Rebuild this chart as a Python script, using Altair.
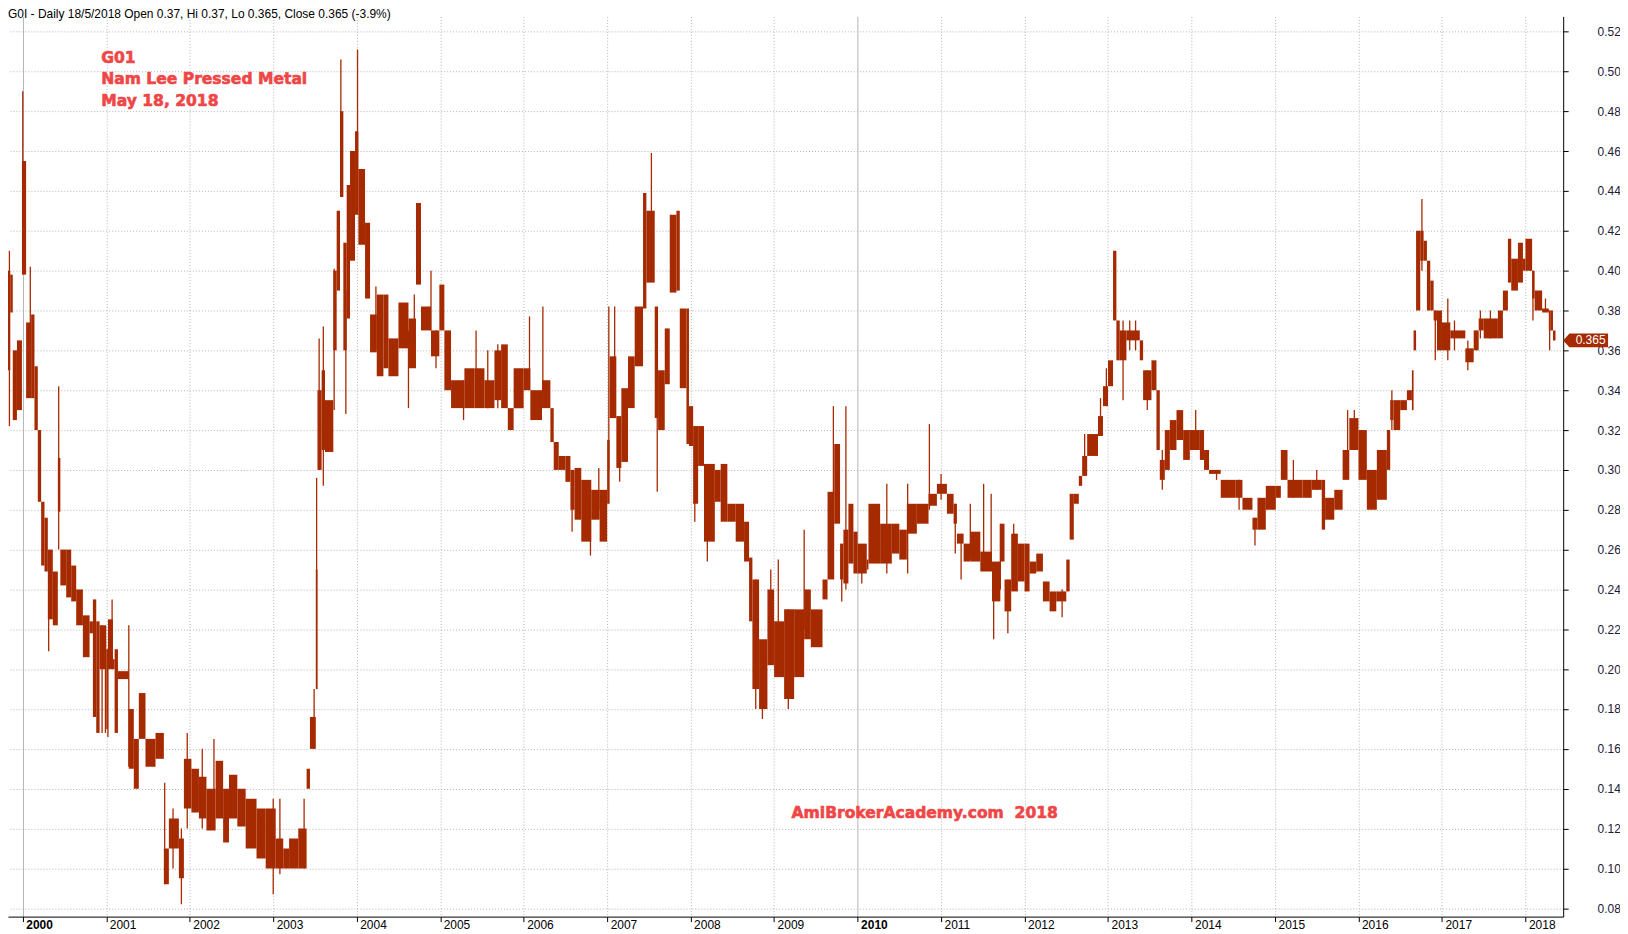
import altair as alt
import pandas as pd

# ---- data (fractional year, price range) ----
seg_start = [
    1999.78, 1999.81, 1999.85, 1999.88, 1999.93, 1999.99,
    2000.04, 2000.10, 2000.14, 2000.18, 2000.22, 2000.26, 2000.30, 2000.36, 2000.42, 2000.45,
    2000.52, 2000.58, 2000.64, 2000.72, 2000.80, 2000.84, 2000.88, 2000.92,
    2001.00, 2001.02, 2001.08, 2001.10, 2001.14, 2001.27, 2001.33, 2001.39, 2001.47, 2001.59,
    2001.69, 2001.75, 2001.87, 2001.93,
    2002.02, 2002.11, 2002.20, 2002.31, 2002.40, 2002.47, 2002.57, 2002.67, 2002.80, 2002.91,
    2003.03, 2003.12, 2003.19, 2003.30, 2003.40, 2003.44, 2003.51, 2003.53, 2003.58, 2003.62,
    2003.72, 2003.76, 2003.80, 2003.84, 2003.88, 2003.92, 2003.98,
    2004.02, 2004.10, 2004.16, 2004.24, 2004.32, 2004.38, 2004.50, 2004.62, 2004.71, 2004.77,
    2004.89, 2004.99,
    2005.05, 2005.13, 2005.29, 2005.41, 2005.53, 2005.65, 2005.73, 2005.81, 2005.88,
    2006.00, 2006.08, 2006.22, 2006.32, 2006.36, 2006.42, 2006.50, 2006.56, 2006.61, 2006.69,
    2006.81, 2006.91,
    2007.00, 2007.03, 2007.11, 2007.17, 2007.25, 2007.33, 2007.43, 2007.47, 2007.57, 2007.61,
    2007.69, 2007.75, 2007.83, 2007.87, 2007.95, 2007.98,
    2008.03, 2008.09, 2008.16, 2008.29, 2008.36, 2008.44, 2008.54, 2008.64, 2008.70, 2008.74,
    2008.82, 2008.92,
    2009.00, 2009.12, 2009.24, 2009.36, 2009.44, 2009.58, 2009.64, 2009.72, 2009.79, 2009.83,
    2009.89, 2009.95,
    2010.00, 2010.11, 2010.13, 2010.27, 2010.41, 2010.50, 2010.59, 2010.71, 2010.85, 2010.95,
    2011.07, 2011.15, 2011.19, 2011.27, 2011.35, 2011.47, 2011.61, 2011.71, 2011.76, 2011.84,
    2011.92,
    2012.00, 2012.06, 2012.14, 2012.22, 2012.30, 2012.38, 2012.50, 2012.54, 2012.59, 2012.65,
    2012.69, 2012.75, 2012.88, 2012.94,
    2013.00, 2013.06, 2013.10, 2013.14, 2013.22, 2013.38, 2013.42, 2013.52, 2013.58, 2013.62,
    2013.68, 2013.74, 2013.82, 2013.90, 2013.98,
    2014.10, 2014.15, 2014.21, 2014.35, 2014.53, 2014.61, 2014.73, 2014.79, 2014.89,
    2015.01, 2015.07, 2015.15, 2015.33, 2015.44, 2015.56, 2015.60, 2015.71, 2015.81, 2015.89,
    2016.00, 2016.10, 2016.22, 2016.34, 2016.38, 2016.42, 2016.50, 2016.58, 2016.64, 2016.66,
    2016.69, 2016.74, 2016.78, 2016.82, 2016.86, 2016.90, 2016.94,
    2017.00, 2017.10, 2017.28, 2017.38, 2017.44, 2017.50, 2017.67, 2017.73, 2017.79, 2017.83,
    2017.91, 2017.97,
    2018.00, 2018.08, 2018.11, 2018.20, 2018.28, 2018.30, 2018.33,
]
last_date = 2018.36

seg_high = [
    0.389, 0.400, 0.398, 0.360, 0.365, 0.455,
    0.374, 0.378, 0.352, 0.320, 0.284, 0.276, 0.260, 0.249, 0.306, 0.260,
    0.260, 0.252, 0.240, 0.227, 0.224, 0.235, 0.224, 0.222,
    0.210, 0.225, 0.205, 0.210, 0.199, 0.180, 0.165, 0.188, 0.165, 0.168,
    0.110, 0.125, 0.115, 0.155,
    0.150, 0.146, 0.140, 0.154, 0.140, 0.147, 0.140, 0.135, 0.130, 0.130,
    0.115, 0.110, 0.115, 0.120, 0.150, 0.176, 0.250, 0.340, 0.350, 0.335,
    0.400, 0.430, 0.480, 0.414, 0.443, 0.460, 0.470,
    0.451, 0.424, 0.378, 0.388, 0.388, 0.366, 0.384, 0.376, 0.434, 0.382,
    0.370, 0.393,
    0.370, 0.345, 0.351, 0.351, 0.345, 0.360, 0.363, 0.331, 0.351,
    0.351, 0.340, 0.345, 0.331, 0.314, 0.307, 0.307, 0.300, 0.301, 0.295,
    0.290, 0.290,
    0.315, 0.357, 0.327, 0.341, 0.357, 0.382, 0.439, 0.430, 0.382, 0.350,
    0.371, 0.428, 0.430, 0.381, 0.381, 0.332,
    0.322, 0.322, 0.303, 0.300, 0.303, 0.283, 0.283, 0.274, 0.256, 0.245,
    0.215, 0.240,
    0.224, 0.230, 0.230, 0.240, 0.230, 0.245, 0.289, 0.313, 0.263, 0.270,
    0.283, 0.269,
    0.263, 0.255, 0.283, 0.273, 0.273, 0.270, 0.283, 0.283, 0.288, 0.293,
    0.288, 0.283, 0.268, 0.263, 0.269, 0.259, 0.254, 0.273, 0.245, 0.268,
    0.263,
    0.263, 0.254, 0.258, 0.244, 0.239, 0.239, 0.255, 0.288, 0.288, 0.297,
    0.307, 0.318, 0.327, 0.342,
    0.355, 0.410, 0.375, 0.370, 0.370, 0.365, 0.350, 0.355, 0.340, 0.305,
    0.320, 0.325, 0.330, 0.320, 0.320,
    0.320, 0.310, 0.300, 0.295, 0.295, 0.286, 0.276, 0.286, 0.292,
    0.292, 0.310, 0.295, 0.295, 0.295, 0.295, 0.286, 0.290, 0.310, 0.326,
    0.320, 0.300, 0.310, 0.320, 0.335, 0.335, 0.335, 0.340, 0.350, 0.370,
    0.420, 0.420, 0.415, 0.405, 0.395, 0.380, 0.380,
    0.374, 0.370, 0.361, 0.370, 0.376, 0.376, 0.380, 0.390, 0.416, 0.406,
    0.414, 0.406,
    0.416, 0.400, 0.390, 0.381, 0.380, 0.380, 0.370,
]

seg_low = [
    0.336, 0.350, 0.379, 0.325, 0.330, 0.398,
    0.336, 0.336, 0.320, 0.284, 0.252, 0.249, 0.225, 0.222, 0.279, 0.242,
    0.236, 0.234, 0.222, 0.206, 0.218, 0.176, 0.168, 0.200,
    0.170, 0.200, 0.200, 0.168, 0.195, 0.150, 0.140, 0.165, 0.151, 0.155,
    0.092, 0.110, 0.095, 0.130,
    0.128, 0.125, 0.119, 0.125, 0.113, 0.125, 0.121, 0.110, 0.105, 0.100,
    0.100, 0.100, 0.100, 0.100, 0.140, 0.160, 0.190, 0.300, 0.310, 0.309,
    0.360, 0.390, 0.437, 0.360, 0.376, 0.405, 0.428,
    0.413, 0.386, 0.359, 0.347, 0.351, 0.347, 0.361, 0.351, 0.393, 0.370,
    0.357, 0.370,
    0.340, 0.331, 0.331, 0.331, 0.331, 0.335, 0.331, 0.320, 0.331,
    0.340, 0.325, 0.331, 0.314, 0.300, 0.300, 0.294, 0.280, 0.275, 0.264,
    0.275, 0.264,
    0.283, 0.326, 0.301, 0.304, 0.331, 0.352, 0.381, 0.394, 0.326, 0.320,
    0.343, 0.389, 0.390, 0.341, 0.313, 0.312,
    0.283, 0.302, 0.264, 0.284, 0.274, 0.274, 0.264, 0.254, 0.224, 0.190,
    0.180, 0.202,
    0.196, 0.185, 0.196, 0.215, 0.211, 0.235, 0.245, 0.273, 0.245, 0.243,
    0.253, 0.248,
    0.248, 0.250, 0.253, 0.253, 0.258, 0.255, 0.268, 0.273, 0.282, 0.288,
    0.278, 0.273, 0.263, 0.254, 0.254, 0.249, 0.234, 0.254, 0.229, 0.239,
    0.244,
    0.239, 0.248, 0.249, 0.234, 0.229, 0.234, 0.239, 0.265, 0.283, 0.292,
    0.297, 0.307, 0.317, 0.332,
    0.342, 0.375, 0.355, 0.355, 0.365, 0.355, 0.335, 0.340, 0.310, 0.295,
    0.300, 0.310, 0.315, 0.305, 0.310,
    0.305, 0.300, 0.298, 0.286, 0.286, 0.280, 0.270, 0.270, 0.280,
    0.286, 0.295, 0.286, 0.286, 0.290, 0.270, 0.275, 0.280, 0.295, 0.310,
    0.295, 0.280, 0.285, 0.300, 0.325, 0.320, 0.330, 0.335, 0.330, 0.360,
    0.380, 0.405, 0.405, 0.380, 0.380, 0.375, 0.360,
    0.360, 0.366, 0.354, 0.360, 0.370, 0.366, 0.366, 0.380, 0.394, 0.390,
    0.394, 0.400,
    0.400, 0.386, 0.380, 0.379, 0.370, 0.370, 0.365,
]

# isolated daily extremes (wicks)
spike_date = [
    1999.80, 1999.84, 2000.00, 2000.09, 2000.31, 2000.43, 2000.95, 2000.99, 2001.02, 2001.07,
    2001.27, 2001.70, 2001.80, 2001.90, 2001.97, 2002.15, 2002.29, 2003.00, 2003.08, 2003.37,
    2003.49, 2003.52, 2003.55, 2003.60, 2003.73, 2003.81, 2003.87, 2004.01, 2004.23, 2004.62,
    2004.69, 2004.89, 2004.95, 2005.28, 2005.43, 2005.57, 2005.69, 2006.07, 2006.23, 2006.58,
    2006.80, 2006.90, 2007.02, 2007.09, 2007.15, 2007.53, 2007.60, 2008.05, 2008.20, 2008.78,
    2008.86, 2008.96, 2009.05, 2009.17, 2009.36, 2009.71, 2009.81, 2009.86, 2010.05, 2010.35,
    2010.60, 2010.86, 2011.00, 2011.17, 2011.24, 2011.35, 2011.51, 2011.60, 2011.63, 2011.71,
    2011.80, 2011.87, 2012.45, 2012.72, 2012.91, 2012.98, 2013.18, 2013.26, 2013.33, 2013.47,
    2013.65, 2014.05, 2014.30, 2014.57, 2014.76, 2015.22, 2015.50, 2015.87, 2015.95, 2016.40,
    2016.76, 2016.92, 2017.07, 2017.15, 2017.31, 2017.46, 2017.58, 2018.09, 2018.24, 2018.29,
]
spike_high = [
    0.360, 0.410, 0.490, 0.402, 0.250, 0.342, 0.222, 0.215, 0.210, 0.235,
    0.222, 0.143, 0.130, 0.120, 0.168, 0.160, 0.165, 0.135, 0.135, 0.135,
    0.190, 0.296, 0.366, 0.372, 0.401, 0.506, 0.390, 0.511, 0.392, 0.370,
    0.388, 0.400, 0.370, 0.345, 0.370, 0.360, 0.363, 0.377, 0.382, 0.300,
    0.290, 0.301, 0.382, 0.382, 0.320, 0.459, 0.350, 0.300, 0.290, 0.245,
    0.210, 0.250, 0.255, 0.230, 0.270, 0.332, 0.260, 0.332, 0.260, 0.293,
    0.293, 0.323, 0.298, 0.283, 0.268, 0.283, 0.293, 0.288, 0.250, 0.273,
    0.245, 0.273, 0.240, 0.318, 0.336, 0.351, 0.375, 0.375, 0.375, 0.350,
    0.310, 0.330, 0.300, 0.295, 0.276, 0.305, 0.300, 0.330, 0.330, 0.340,
    0.436, 0.380, 0.386, 0.375, 0.365, 0.380, 0.380, 0.400, 0.386, 0.380,
]
spike_low = [
    0.296, 0.322, 0.400, 0.340, 0.209, 0.260, 0.168, 0.168, 0.166, 0.200,
    0.151, 0.092, 0.100, 0.082, 0.120, 0.120, 0.120, 0.087, 0.097, 0.100,
    0.160, 0.190, 0.300, 0.292, 0.330, 0.440, 0.328, 0.430, 0.360, 0.331,
    0.360, 0.370, 0.351, 0.325, 0.340, 0.331, 0.331, 0.340, 0.340, 0.269,
    0.257, 0.280, 0.300, 0.330, 0.294, 0.400, 0.289, 0.274, 0.254, 0.180,
    0.175, 0.210, 0.210, 0.180, 0.220, 0.270, 0.234, 0.240, 0.243, 0.248,
    0.248, 0.280, 0.285, 0.258, 0.245, 0.255, 0.250, 0.250, 0.215, 0.240,
    0.218, 0.240, 0.226, 0.297, 0.317, 0.332, 0.335, 0.360, 0.360, 0.330,
    0.290, 0.310, 0.295, 0.280, 0.262, 0.286, 0.290, 0.300, 0.310, 0.320,
    0.400, 0.355, 0.355, 0.360, 0.350, 0.366, 0.366, 0.375, 0.380, 0.360,
]

year_ticks = list(range(2000, 2019))
price_ticks = [round(0.08 + 0.02 * i, 2) for i in range(23)]
last_close = [0.365]
header_text = ["G0I - Daily 18/5/2018 Open 0.37, Hi 0.37, Lo 0.365, Close 0.365 (-3.9%)"]
note_text = ["G01\nNam Lee Pressed Metal\nMay 18, 2018"]
mark_text_str = ["AmiBrokerAcademy.com\u00a0\u00a02018"]

# ---- build tables ----
bars = pd.DataFrame({
    "t0": seg_start,
    "t1": seg_start[1:] + [last_date],
    "hi": seg_high,
    "lo": seg_low,
})
spikes = pd.DataFrame({"t": spike_date, "hi": spike_high, "lo": spike_low})
tag = pd.DataFrame({"hi": last_close, "label": [f"{v:.3f}" for v in last_close]})

PRICE = "#a62a00"
RED = "#ef4646"
GRID = "#b4b4b4"
FONT = "Liberation Sans"

xscale = alt.Scale(domain=[1999.823, 2018.452], nice=False, zero=False)
yscale = alt.Scale(domain=[0.0758, 0.5276], nice=False, zero=False)

decade = "datum.value % 10 == 0"
xaxis = alt.Axis(
    values=year_ticks, format="d", title=None, orient="bottom",
    grid=True, gridColor=GRID, gridWidth=1,
    gridDash={"condition": {"test": decade, "value": []}, "value": [1, 2]},
    domainColor="black", domainWidth=1, tickColor="black", tickSize=5,
    labelAlign="left", labelBaseline="top", labelPadding=-2, labelOffset=3,
    labelFont=FONT, labelFontSize=12, labelColor="black",
    labelFontWeight={"condition": {"test": decade, "value": "bold"}, "value": "normal"},
    labelOverlap=False, labelFlush=False,
)
yaxis = alt.Axis(
    values=price_ticks, format=".2f", title=None, orient="right",
    grid=True, gridColor=GRID, gridWidth=1, gridDash=[1, 2],
    domainColor="black", domainWidth=1, tickColor="black", tickSize=5,
    labelAlign="left", labelPadding=29, labelFont=FONT, labelFontSize=12,
    labelColor="#1a1a3a", labelOverlap=False, labelFlush=False,
)

body = alt.Chart(bars).mark_rect(color=PRICE, clip=True).encode(
    x=alt.X("t0:Q", scale=xscale, axis=xaxis),
    x2="t1",
    y=alt.Y("hi:Q", scale=yscale, axis=yaxis),
    y2="lo",
)
wicks = alt.Chart(spikes).mark_rule(color=PRICE, strokeWidth=1.3, clip=True).encode(
    x="t:Q", y="hi:Q", y2="lo",
)

header = alt.Chart(pd.DataFrame({"s": header_text})).mark_text(
    align="left", baseline="top", font=FONT, fontSize=12, color="black",
).encode(text="s:N", x=alt.value(0), y=alt.value(-7))

note = alt.Chart(pd.DataFrame({"s": note_text})).mark_text(
    align="left", baseline="alphabetic", font="DejaVu Sans", fontWeight="bold",
    fontSize=15.6, color=RED, stroke=RED, strokeWidth=0.6,
    lineBreak="\n", lineHeight=21.7,
).encode(text="s:N", x=alt.value(93.5), y=alt.value(46.5))

watermark = alt.Chart(pd.DataFrame({"s": mark_text_str})).mark_text(
    align="left", baseline="alphabetic", font="DejaVu Sans", fontWeight="bold",
    fontSize=15.6, color=RED, stroke=RED, strokeWidth=0.6,
).encode(text="s:N", x=alt.value(786), y=alt.value(804))

arrow_path = "M -1 0 L -0.72 -0.31 L 1 -0.31 L 1 0.31 L -0.72 0.31 Z"
tag_box = alt.Chart(tag).mark_point(
    shape=arrow_path, filled=True, size=2025, color=PRICE, opacity=1, strokeWidth=0, clip=False,
).encode(x=alt.value(1582.5), y="hi:Q")
tag_text = alt.Chart(tag).mark_text(
    align="center", baseline="middle", font=FONT, fontSize=12, color="white",
).encode(text="label:N", x=alt.value(1587.5), y="hi:Q")

chart = alt.layer(body, wicks, header, note, watermark, tag_box, tag_text).properties(
    width=1560, height=903,
    autosize=alt.AutoSizeParams(type="none"),
    padding={"left": 0, "top": 7, "right": 57, "bottom": 14},
    background="white",
).configure_view(strokeWidth=0)

chart.save("out.html", embed_options={"renderer": "svg", "actions": False})
